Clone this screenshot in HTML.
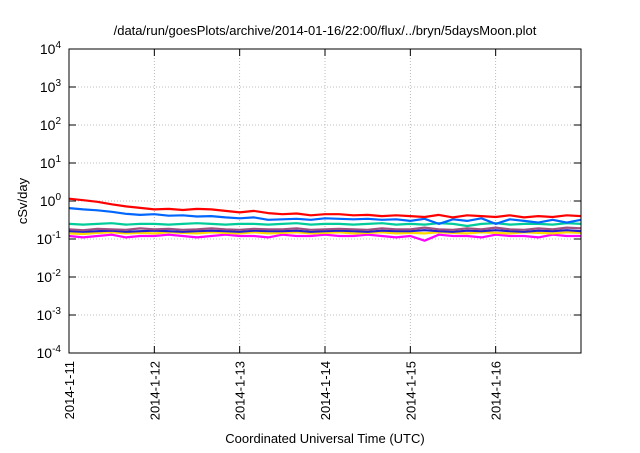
<!DOCTYPE html>
<html><head><meta charset="utf-8"><style>
body{margin:0;background:#fff;width:640px;height:448px;overflow:hidden}
text{font-family:"Liberation Sans",sans-serif;fill:#000}
</style></head><body>
<svg id="chart" width="640" height="448"></svg>
<script>
const dayLabels=["2014-1-11","2014-1-12","2014-1-13","2014-1-14","2014-1-15","2014-1-16"];
const yExps=[-4,-3,-2,-1,0,1,2,3,4];
const seriesColors=["#ff00ff","#ffd800","#2020d0","#a05080","#00cc99","#0066ff","#ff0000"];
const sMagenta=[0.12,0.11,0.12,0.13,0.11,0.12,0.12,0.13,0.12,0.11,0.12,0.13,0.12,0.12,0.11,0.13,0.12,0.12,0.13,0.12,0.12,0.13,0.12,0.11,0.12,0.09,0.13,0.12,0.12,0.11,0.13,0.12,0.12,0.11,0.13,0.12,0.12];
const sYellow=[0.14,0.135,0.145,0.15,0.14,0.145,0.14,0.15,0.145,0.14,0.15,0.145,0.14,0.15,0.14,0.145,0.15,0.14,0.145,0.15,0.14,0.145,0.15,0.14,0.145,0.14,0.15,0.145,0.14,0.15,0.145,0.14,0.15,0.145,0.14,0.15,0.145];
const sDarkBlue=[0.16,0.155,0.16,0.165,0.155,0.16,0.165,0.16,0.155,0.16,0.165,0.16,0.155,0.165,0.16,0.16,0.165,0.155,0.16,0.165,0.16,0.155,0.165,0.16,0.16,0.17,0.16,0.155,0.165,0.16,0.17,0.16,0.155,0.165,0.16,0.17,0.16];
const sPurple=[0.18,0.17,0.185,0.18,0.175,0.19,0.18,0.185,0.175,0.18,0.19,0.18,0.175,0.185,0.18,0.18,0.19,0.175,0.18,0.185,0.18,0.175,0.19,0.18,0.18,0.2,0.18,0.175,0.19,0.18,0.2,0.18,0.175,0.19,0.18,0.2,0.19];
const sGreen=[0.25,0.24,0.25,0.26,0.24,0.25,0.25,0.24,0.25,0.26,0.25,0.24,0.25,0.25,0.24,0.25,0.26,0.24,0.25,0.25,0.24,0.25,0.26,0.24,0.25,0.24,0.26,0.25,0.22,0.25,0.26,0.24,0.25,0.25,0.24,0.26,0.25];
const sBlue=[0.65,0.6,0.57,0.52,0.46,0.43,0.45,0.41,0.42,0.39,0.4,0.37,0.35,0.37,0.32,0.33,0.34,0.32,0.35,0.34,0.33,0.34,0.32,0.33,0.3,0.34,0.25,0.33,0.3,0.35,0.25,0.33,0.3,0.27,0.32,0.27,0.32];
const sRed=[1.15,1.05,0.95,0.82,0.72,0.66,0.6,0.62,0.58,0.62,0.6,0.55,0.5,0.55,0.48,0.45,0.47,0.42,0.45,0.45,0.42,0.43,0.4,0.42,0.4,0.38,0.43,0.37,0.42,0.4,0.38,0.42,0.37,0.4,0.38,0.42,0.4];
const allSeries=[sMagenta,sYellow,sDarkBlue,sPurple,sGreen,sBlue,sRed];
const seriesNames=["series-magenta","series-yellow","series-dark-blue","series-purple","series-green","series-blue","series-red"];
const L=69,R=581,T=49,B=353,DAYS=6;
const xs=d=>L+(R-L)*d/DAYS;
const ys=v=>B-(Math.log10(v)+4)/8*(B-T);
const svg=document.getElementById('chart');
const NS="http://www.w3.org/2000/svg";
function mk(tag,attrs,txt){const e=document.createElementNS(NS,tag);for(const k in attrs)e.setAttribute(k,attrs[k]);if(txt!==undefined)e.textContent=txt;svg.appendChild(e);return e;}
// grid
yExps.forEach(p=>{const y=ys(Math.pow(10,p));
 if(p>-4&&p<4){const g=mk('line',{x1:L,x2:R,y1:y,y2:y,stroke:'#aaa','stroke-dasharray':'1,2','stroke-width':0.8});
 
 }
 const t1=mk('line',{x1:L,x2:L+7,y1:y,y2:y,stroke:'#000'});
 const t2=mk('line',{x1:R-7,x2:R,y1:y,y2:y,stroke:'#000'});
 const lab=mk('text',{x:L-8,y:y+5,'text-anchor':'end','font-size':14});
 
 
 lab.innerHTML='10<tspan dy="-6" font-size="10">'+p+'</tspan>';
});
dayLabels.forEach((d,i)=>{const x=xs(i);
 if(i>0){const g=mk('line',{x1:x,x2:x,y1:T,y2:B,stroke:'#aaa','stroke-dasharray':'1,2','stroke-width':0.8});
 }
 const t=mk('line',{x1:x,x2:x,y1:B-7,y2:B,stroke:'#000'});
 const t2=mk('line',{x1:x,x2:x,y1:T,y2:T+7,stroke:'#000'});
 const lab=mk('text',{x:0,y:0,'text-anchor':'end','font-size':13,transform:`translate(${x+5},${B+8}) rotate(-90)`},d);
 
});
allSeries.forEach((s,k)=>{const n=s.length;
 const pts=s.map((v,i)=>xs(i*DAYS/(n-1)).toFixed(1)+','+ys(v).toFixed(1)).join(' ');
 const pl=mk('polyline',{points:pts,fill:'none',stroke:seriesColors[k],'stroke-width':2.2,'stroke-linejoin':'round'});
 
});
const fr=mk('rect',{x:L,y:T,width:R-L,height:B-T,fill:'none',stroke:'#000','stroke-width':1});

const ti=mk('text',{x:325,y:35,'text-anchor':'middle','font-size':13},'/data/run/goesPlots/archive/2014-01-16/22:00/flux/../bryn/5daysMoon.plot');

const xt=mk('text',{x:325,y:443,'text-anchor':'middle','font-size':13},'Coordinated Universal Time (UTC)');

const yt=mk('text',{x:0,y:0,'text-anchor':'middle','font-size':13,transform:'translate(27,201) rotate(-90)'},'cSv/day');

</script>
</body></html>
